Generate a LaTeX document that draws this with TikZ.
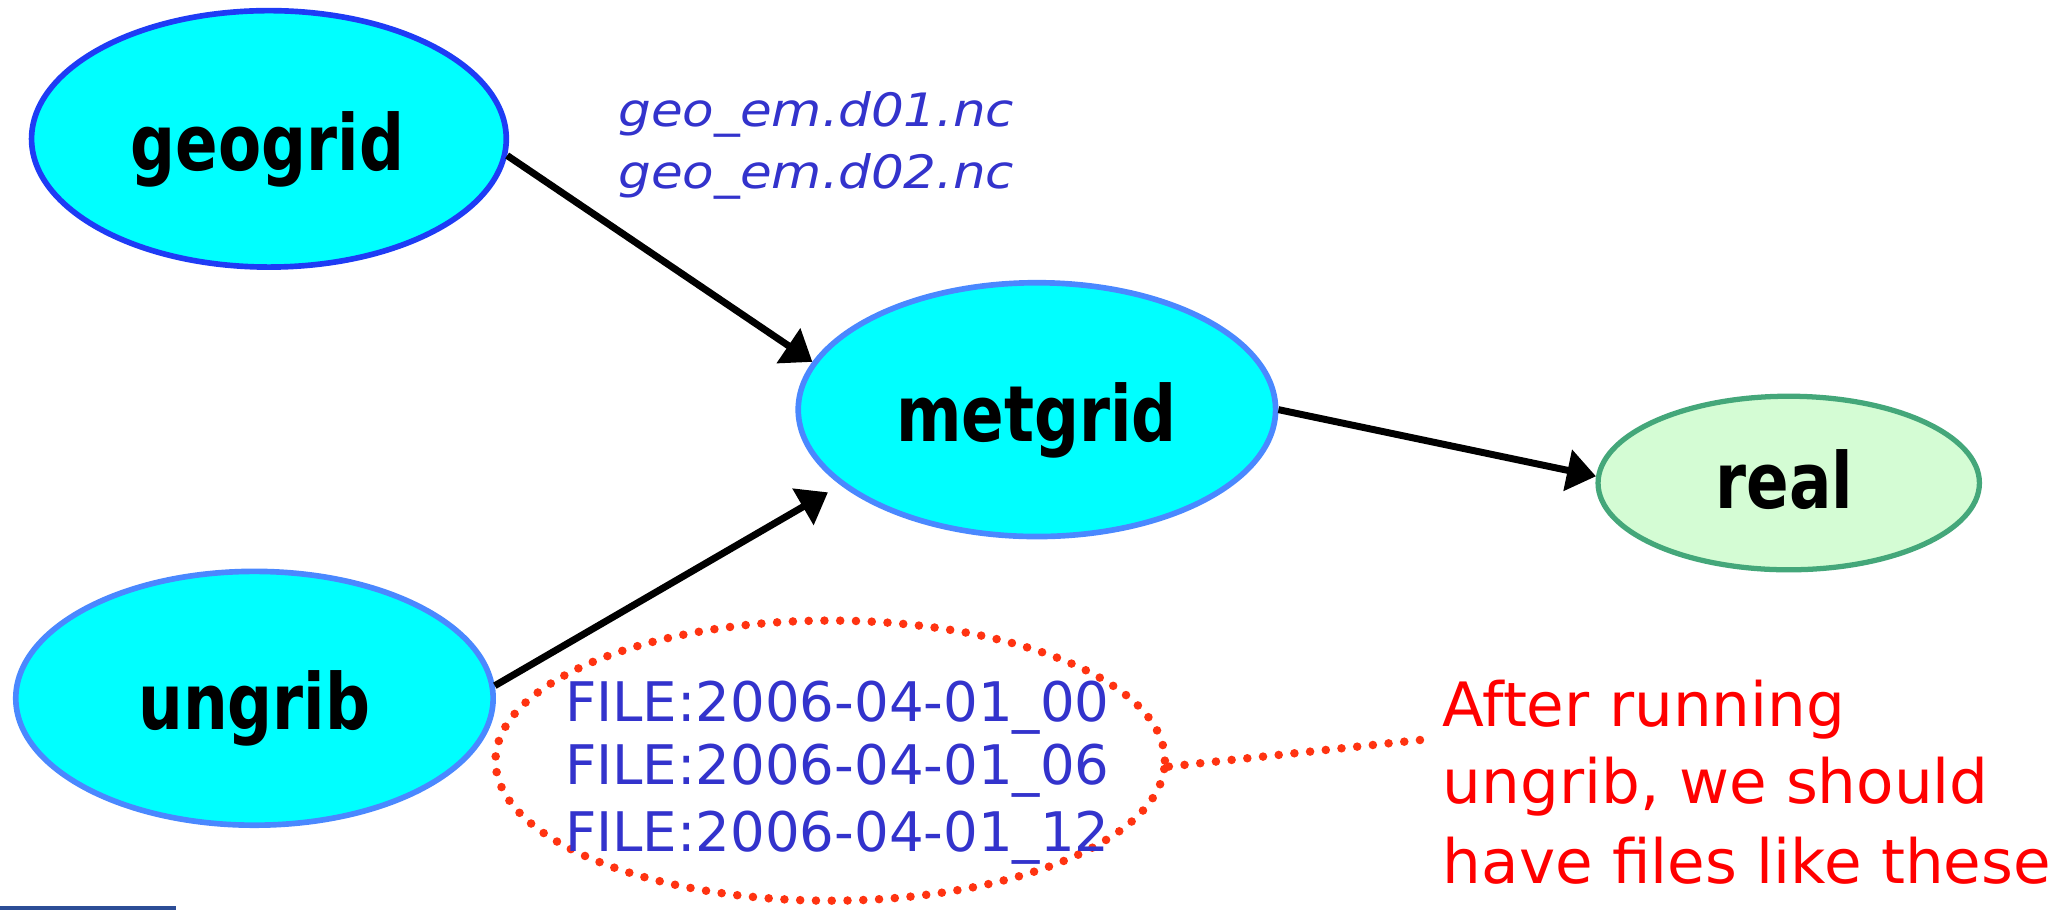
\documentclass[tikz,border=0pt]{standalone}
\usepackage{fontspec}
\setmainfont{DejaVu Sans}
\newfontfamily\nodefont{DejaVu Sans Bold}[FakeStretch=0.81]
\newfontfamily\itfont{DejaVu Sans Oblique}[FakeStretch=1.12]
\usetikzlibrary{shapes.geometric,arrows.meta}
\definecolor{cyanfill}{HTML}{00FFFF}
\definecolor{geoborder}{HTML}{1E3CF5}
\definecolor{lightborder}{HTML}{4A88FF}
\definecolor{realfill}{HTML}{D4FCD4}
\definecolor{realborder}{HTML}{44A77A}
\definecolor{fileblue}{HTML}{3333CC}
\definecolor{dotred}{HTML}{FF3311}
\definecolor{notered}{HTML}{FF0000}
\definecolor{barblue}{HTML}{2C4D96}
\begin{document}
\begin{tikzpicture}[x=1pt,y=-1pt,
  procnode/.style={ellipse, inner sep=0pt, line width=4.3pt, fill=cyanfill},
  proclabel/.style={font=\nodefont\fontsize{59}{70}\selectfont, inner sep=0pt, anchor=base},
  flow/.style={line width=5.3pt, -{Triangle[length=22pt,width=31pt]}},
  dotline/.style={draw=dotred, line width=6.5pt, line cap=round, dash pattern=on 0pt off 12pt},
  filetext/.style={font=\fontsize{41.5}{49.5}\selectfont, text=fileblue, inner sep=0pt, anchor=base west},
  geotext/.style={font=\itfont\fontsize{35}{46.7}\selectfont, text=fileblue, inner sep=0pt, anchor=base west},
  notetext/.style={font=\fontsize{46.5}{59.7}\selectfont, text=notered, inner sep=0pt, anchor=base west}]
\useasboundingbox (0,0) rectangle (1568,692);

% process ellipses
\node[procnode, draw=geoborder, minimum width=361pt, minimum height=195pt] (geo) at (204.5,105.6) {};
\node[procnode, draw=lightborder, minimum width=363pt, minimum height=193pt] (met) at (788.5,311.5) {};
\node[procnode, draw=lightborder, minimum width=363pt, minimum height=193pt] (ung) at (193.5,531) {};
\node[ellipse, inner sep=0pt, line width=4pt, fill=realfill, draw=realborder, minimum width=290pt, minimum height=132pt] (real) at (1360.2,367.3) {};

% labels
\node[proclabel] (geolbl) at (203.4,129.3) {geogrid};
\node[proclabel] (metlbl) at (788.2,335.9) {metgrid};
\node[proclabel] (unglbl) at (193.5,555) {ungrib};
\node[proclabel] (reallbl) at (1357,386.8) {real};

% connectors
\draw[flow] (geo.-4.6) -- (met.168);
\draw[flow, shorten >=11pt] (ung.3.8) -- (met.201.4);
\draw[flow] (met.east) -- (real.178);

% file names
\node[geotext] (g1) at (470,96.3) {geo\_em.d01.nc};
\node[geotext] (g2) at (470,143) {geo\_em.d02.nc};

% ungrib outputs
\node[ellipse, inner sep=0pt, dotline, minimum width=509pt, minimum height=213pt] (files) at (631.3,578.4) {};
\node[filetext] (f1) at (429.5,548.6) {FILE:2006-04-01\_00};
\node[filetext] (f2) at (429.5,596.8) {FILE:2006-04-01\_06};
\node[filetext] (f3) at (429.5,647.6) {FILE:2006-04-01\_12};

% note
\node[notetext] (n1) at (1097,552.5) {After running};
\node[notetext] (n2) at (1097,610.8) {ungrib, we should};
\node[notetext] (n3) at (1097,672) {have files like these};
\coordinate (noteend) at (1080,562.7);
\draw[dotline] (files.-1.6) -- (noteend);

% bottom bar
\fill[barblue] (0,689) rectangle (134,692);
\end{tikzpicture}
\end{document}
